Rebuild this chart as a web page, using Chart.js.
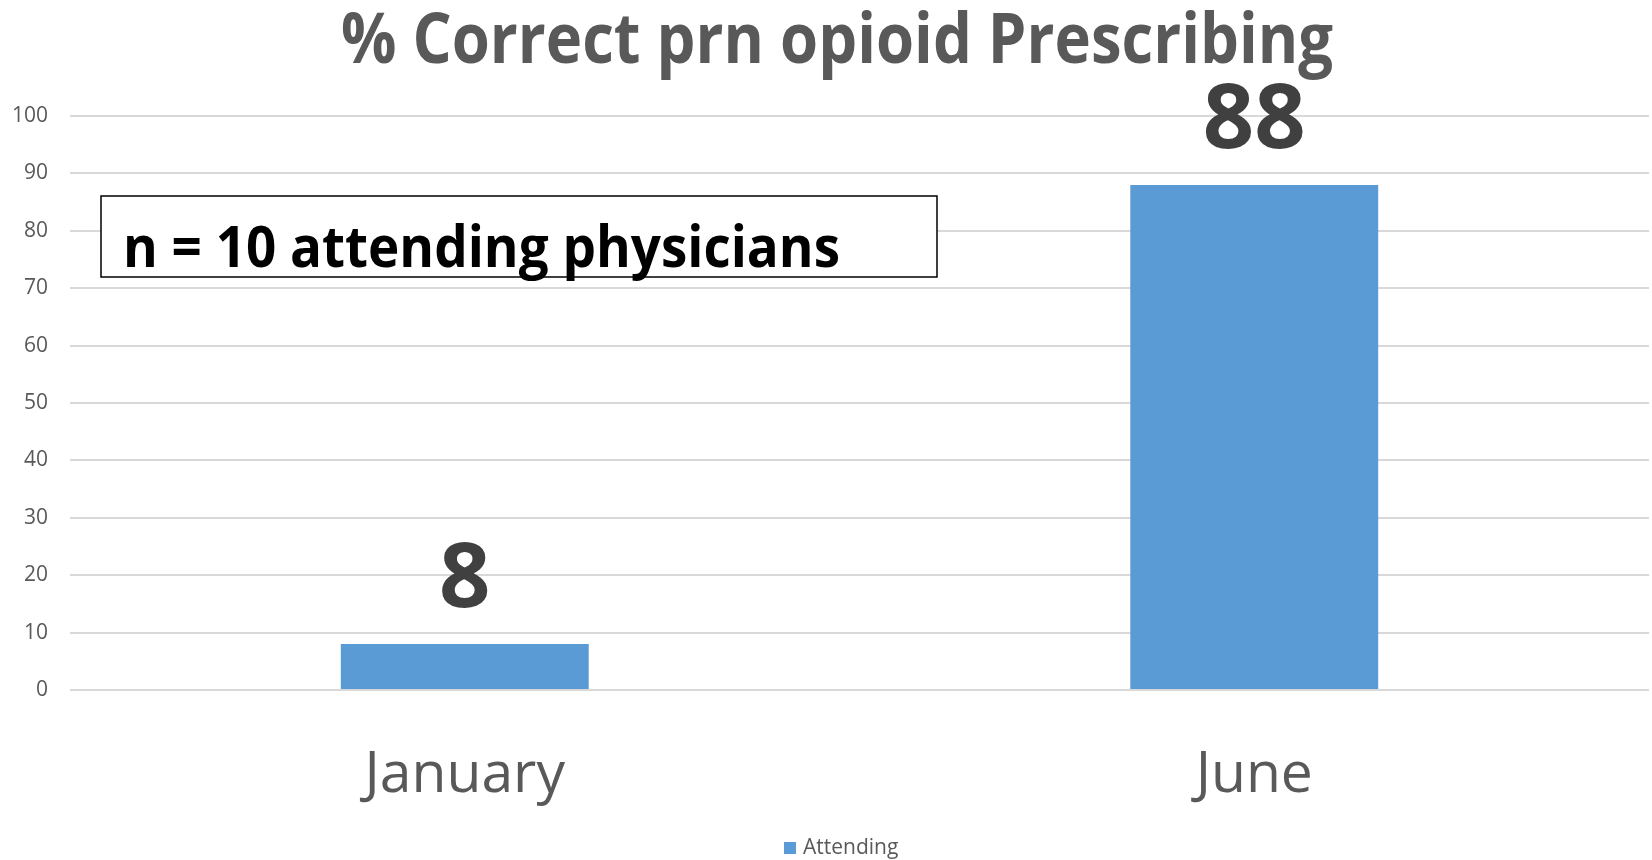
<!DOCTYPE html>
<html>
<head>
<meta charset="utf-8">
<title>% Correct prn opioid Prescribing</title>
<script src="https://cdn.jsdelivr.net/npm/chart.js@4.4.1/dist/chart.umd.min.js"></script>
<style>
  html, body { margin: 0; padding: 0; background: #ffffff; }
  #wrap { width: 1652px; height: 860px; }
</style>
</head>
<body>
<div id="wrap"><canvas id="c" width="1652" height="860"></canvas></div>
<script>
// ---- data ----
const categories = ['January', 'June'];
const seriesName = 'Attending';
const attendingPct = [8, 88];
const yMin = 0;
const yMax = 100;
const yStep = 10;
const chartTitle = '% Correct prn opioid Prescribing';
const noteText = 'n = 10 attending physicians';

const FONT = '"Open Sans", "Noto Sans", sans-serif';
const GREY_TEXT = '#595959';
const BAR_BLUE = '#5b9bd5';

// draw text squeezed horizontally so it spans a given width
function fitText(ctx, text, cx, baseline, width) {
  const w = ctx.measureText(text).width;
  const k = Math.min(1, width / w);
  ctx.save();
  ctx.translate(cx, baseline);
  ctx.scale(k, 1);
  ctx.textAlign = 'center';
  ctx.textBaseline = 'alphabetic';
  ctx.fillText(text, 0, 0);
  ctx.restore();
}

// title, note box, value labels and legend
const decorations = {
  id: 'decorations',
  afterDatasetsDraw(chart) {
    const ctx = chart.ctx;
    // value labels above each bar
    const meta = chart.getDatasetMeta(0);
    ctx.save();
    ctx.fillStyle = '#404040';
    ctx.font = 'bold 90px ' + FONT;
    ctx.textAlign = 'center';
    ctx.textBaseline = 'alphabetic';
    meta.data.forEach((bar, i) => {
      ctx.fillText(String(chart.data.datasets[0].data[i]), bar.x, bar.y - 37);
    });
    ctx.restore();
  },
  afterDraw(chart) {
    const ctx = chart.ctx;
    // title
    ctx.save();
    ctx.fillStyle = GREY_TEXT;
    ctx.font = 'bold 70px ' + FONT;
    fitText(ctx, chartTitle, 837, 63, 992);
    ctx.restore();

    // note box
    ctx.save();
    ctx.fillStyle = '#ffffff';
    ctx.fillRect(101, 196, 836, 81);
    ctx.strokeStyle = '#000000';
    ctx.lineWidth = 1.5;
    ctx.strokeRect(101, 196, 836, 81);
    ctx.fillStyle = '#000000';
    ctx.font = 'bold 57px ' + FONT;
    fitText(ctx, noteText, 123 + 717 / 2, 267, 717);
    ctx.restore();

    // legend
    const ds = chart.data.datasets[0];
    ctx.save();
    ctx.fillStyle = ds.backgroundColor;
    ctx.fillRect(784, 842, 12, 12);
    ctx.fillStyle = GREY_TEXT;
    ctx.font = '21px ' + FONT;
    ctx.textAlign = 'left';
    ctx.textBaseline = 'middle';
    ctx.fillText(ds.label, 803, 848);
    ctx.restore();
  }
};

new Chart(document.getElementById('c'), {
  type: 'bar',
  data: {
    labels: categories,
    datasets: [{
      label: seriesName,
      data: attendingPct,
      backgroundColor: BAR_BLUE,
      borderWidth: 0,
      categoryPercentage: 1,
      barPercentage: 0.314
    }]
  },
  options: {
    responsive: false,
    animation: false,
    devicePixelRatio: 1,
    layout: { padding: { top: 116, right: 3, bottom: 0, left: 0 } },
    plugins: {
      legend: { display: false },
      title: { display: false },
      tooltip: { enabled: false }
    },
    scales: {
      x: {
        grid: { display: false },
        border: { display: false },
        ticks: {
          color: GREY_TEXT,
          font: { family: FONT, size: 57 },
          padding: 44
        },
        afterFit(s) { s.height = 170; }
      },
      y: {
        min: yMin,
        max: yMax,
        grid: { color: '#d9d9d9', lineWidth: 2, drawTicks: false },
        border: { display: false },
        ticks: {
          stepSize: yStep,
          color: GREY_TEXT,
          font: { family: FONT, size: 21 },
          padding: 22
        },
        afterFit(s) { s.width = 70; }
      }
    }
  },
  plugins: [decorations]
});
</script>
</body>
</html>
